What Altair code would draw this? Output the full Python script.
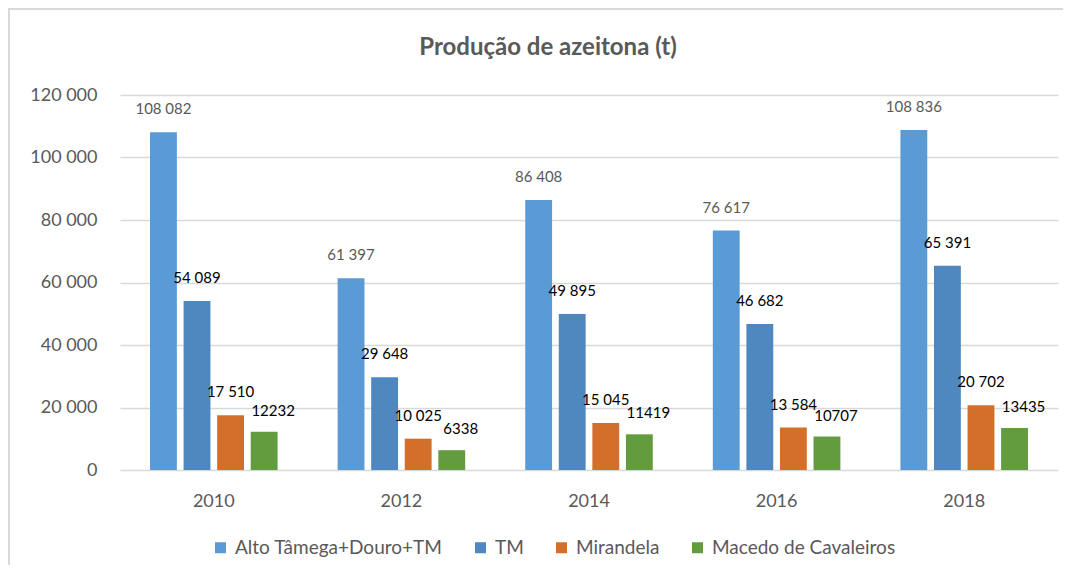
import altair as alt
import pandas as pd

years = ["2010", "2012", "2014", "2016", "2018"]
series = ["Alto Tâmega+Douro+TM", "TM", "Mirandela", "Macedo de Cavaleiros"]
alto = [108082, 61397, 86408, 76617, 108836]
tm = [54089, 29648, 49895, 46682, 65391]
mirandela = [17510, 10025, 15045, 13584, 20702]
macedo = [12232, 6338, 11419, 10707, 13435]
colors = ["#5B9BD5", "#4F88BE", "#D46F2B", "#639B3F"]
y_ticks = [0, 20000, 40000, 60000, 80000, 100000, 120000]

rows = []
for s, vals in zip(series, [alto, tm, mirandela, macedo]):
    for yr, v in zip(years, vals):
        if s == "Macedo de Cavaleiros":
            lab = str(v)
        else:
            lab = f"{v:,}".replace(",", " ")
        rows.append({"year": yr, "series": s, "value": v, "label": lab})
df = pd.DataFrame(rows)

FONT = "Lato"
GRAY = "#595959"

x_enc = alt.X("year:N", sort=years, title=None,
              scale=alt.Scale(paddingInner=0.32, paddingOuter=0.16),
              axis=alt.Axis(labelFontSize=18, labelColor=GRAY, labelFont=FONT,
                            ticks=False, domain=False, labelPadding=22, labelAngle=0))
xo_enc = alt.XOffset("series:N", sort=series, scale=alt.Scale(paddingInner=0.2, paddingOuter=0))
y_enc = alt.Y("value:Q", title=None,
              scale=alt.Scale(domain=[0, 120000], nice=False),
              axis=alt.Axis(values=y_ticks, labelExpr="replace(format(datum.value, ','), ',', ' ')",
                            labelFontSize=18, labelColor=GRAY, labelFont=FONT,
                            ticks=False, domain=False, labelPadding=23,
                            gridColor="#D9D9D9", gridWidth=1.5))

base = alt.Chart(df)

bars = base.mark_bar().encode(
    x=x_enc, xOffset=xo_enc, y=y_enc,
    color=alt.Color("series:N", sort=series,
                    scale=alt.Scale(domain=series, range=colors),
                    legend=alt.Legend(title=None, orient="none", direction="horizontal",
                                      legendX=91, legendY=443, symbolType="square",
                                      symbolSize=121, symbolStrokeWidth=0,
                                      labelFontSize=19, labelColor=GRAY, labelFont=FONT,
                                      labelLimit=0, columnPadding=28, labelOffset=5, padding=0))
)

texts = base.transform_filter("datum.series != 'Macedo de Cavaleiros'").mark_text(
    fontSize=15, font=FONT, baseline="middle", dy=-23).encode(
    x=x_enc, xOffset=xo_enc, y=alt.Y("value:Q"),
    text="label:N",
    color=alt.condition("datum.series == 'Alto Tâmega+Douro+TM'", alt.value(GRAY), alt.value("#000000"))
)

texts_macedo = base.transform_filter("datum.series == 'Macedo de Cavaleiros'").mark_text(
    fontSize=15, font=FONT, baseline="middle", dy=-21, dx=9, color="#000000").encode(
    x=x_enc, xOffset=xo_enc, y=alt.Y("value:Q"),
    text="label:N",
)

border = alt.Chart(pd.DataFrame({"a": [0]})).mark_rect(
    fillOpacity=0, stroke="#D9D9D9", strokeWidth=2
).encode(x=alt.value(-111), x2=alt.value(1100), y=alt.value(-86), y2=alt.value(700))

chart = alt.layer(border, bars, texts, texts_macedo).properties(
    width=938, height=375,
    title=alt.TitleParams("Produção de azeitona (t)", fontSize=24, font=FONT, fontWeight="bold",
                          color=GRAY, anchor="middle", dx=-41, offset=-52),
    autosize=alt.AutoSizeParams(type="none"),
    padding={"left": 112, "top": 87, "right": 5, "bottom": 95},
).configure_view(stroke=None)

chart.save("out.html", embed_options={"renderer": "svg", "actions": False})
